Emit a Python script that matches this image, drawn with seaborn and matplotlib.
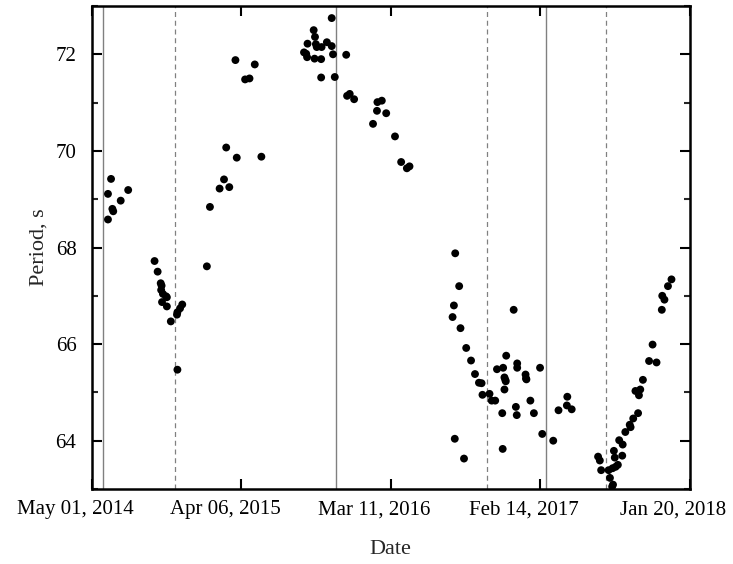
import numpy as np
import pandas as pd
import matplotlib
matplotlib.use("Agg")
import matplotlib.pyplot as plt
import matplotlib.dates as mdates
import matplotlib.transforms as mtransforms
from matplotlib.ticker import MultipleLocator
import seaborn as sns

# ---- data ----
start_date = "2014-05-01"
# days since 2014-05-01
days = [44, 37, 83, 66, 47, 49, 37,
        143, 150, 157, 159, 158, 162, 169, 171, 160, 171, 206, 201, 195, 194, 180, 195,
        262, 269, 291, 301, 313, 306, 330, 386, 327, 371, 349, 359,
        546, 505, 508, 491, 510, 512, 523, 535, 546, 483, 488, 490, 507, 522, 549, 579, 522, 553,
        581, 587, 597, 650, 660, 649, 670, 640, 690, 704, 717, 723,
        827, 836, 824, 821, 839, 852, 863, 872, 881, 887, 889, 905, 910, 918,
        960, 943, 922, 936, 939, 941, 942, 939, 968, 968, 987, 988, 989, 1020, 998,
        965, 934, 967, 1006, 1082, 1081, 1092, 1062, 1025, 1050, 826, 935, 847,
        1319, 1311, 1298, 1303, 1297, 1276, 1268, 1285, 1254, 1237, 1248, 1245, 1243,
        1232, 1224, 1226, 1214, 1200, 1208, 1188, 1190, 1207, 1152, 1156, 1197, 1192,
        1185, 1159, 1176, 1179, 1186, 1184]
period = [69.42, 69.11, 69.19, 68.97, 68.80, 68.75, 68.58,
          67.72, 67.50, 67.26, 67.21, 67.12, 67.04, 66.99, 66.97, 66.87, 66.78, 66.82, 66.74, 66.66, 66.61, 66.47, 65.47,
          67.61, 68.84, 69.22, 69.41, 69.25, 70.07, 69.86, 69.88, 71.88, 71.79, 71.48, 71.50,
          72.75, 72.50, 72.36, 72.22, 72.21, 72.15, 72.15, 72.25, 72.17, 72.04, 72.01, 71.94, 71.91, 71.90, 72.00, 71.99, 71.52, 71.53,
          71.14, 71.18, 71.07, 71.01, 71.04, 70.83, 70.78, 70.56, 70.30, 69.77, 69.64, 69.68,
          67.88, 67.20, 66.80, 66.56, 66.33, 65.92, 65.66, 65.38, 65.20, 65.19, 64.95, 64.97, 64.83, 64.83,
          66.71, 65.76, 65.48, 65.51, 65.31, 65.26, 65.23, 65.06, 65.60, 65.51, 65.37, 65.29, 65.27, 65.51, 64.83,
          64.70, 64.57, 64.53, 64.57, 64.91, 64.73, 64.65, 64.63, 64.14, 64.00, 64.04, 63.83, 63.63,
          67.34, 67.20, 67.00, 66.92, 66.71, 65.99, 65.65, 65.62, 65.26, 65.03, 65.06, 64.94, 64.57,
          64.46, 64.33, 64.28, 64.18, 64.01, 63.92, 63.79, 63.65, 63.69, 63.67, 63.59, 63.50, 63.46,
          63.43, 63.39, 63.39, 63.23, 63.09, 63.05]

solid_line_days = [26, 556, 1033]
dashed_line_days = [190, 899, 1170]
tick_days = [0, 340, 680, 1020, 1360]
y_limits = (63, 73)
x_label = "Date"
y_label = "Period, s"

# ---- build ----
t0 = pd.Timestamp(start_date)
df = pd.DataFrame({"date": t0 + pd.to_timedelta(days, unit="D"), "period": period})
solid_dates = [t0 + pd.Timedelta(days=d) for d in solid_line_days]
dashed_dates = [t0 + pd.Timedelta(days=d) for d in dashed_line_days]
tick_dates = [t0 + pd.Timedelta(days=d) for d in tick_days]

sns.set_style("ticks")
plt.rcParams["font.family"] = ["Liberation Serif", "DejaVu Serif"]

fig = plt.figure(figsize=(7.33, 5.64), dpi=100)
ax = fig.add_axes([91.7 / 733, 1 - 489 / 564, (689.5 - 91.7) / 733, (489 - 6) / 564])

for d in solid_dates:
    ax.axvline(d, color="#808080", lw=1.0, zorder=1)
for d in dashed_dates:
    ax.axvline(d, color="#808080", lw=0.9, ls=(0, (4, 3)), zorder=1)

sns.scatterplot(data=df, x="date", y="period", ax=ax, color="black",
                s=32, edgecolor="none", linewidth=0, zorder=3)

ax.set_xlim(tick_dates[0], tick_dates[-1])
ax.set_ylim(*y_limits)
ax.set_xticks(tick_dates)
ax.xaxis.set_major_formatter(mdates.DateFormatter("%b %d, %Y"))
ax.yaxis.set_major_locator(MultipleLocator(2))
ax.yaxis.set_minor_locator(MultipleLocator(1))

ax.tick_params(axis="both", which="major", direction="in", length=7, width=1.5,
               top=True, right=True, labelsize=15, colors="black")
ax.tick_params(axis="y", which="minor", direction="in", length=4, width=1.5,
               left=True, right=True)
ax.tick_params(axis="x", pad=8)
ax.tick_params(axis="y", pad=11)

offset = mtransforms.ScaledTranslation(-16 / 100, 0, fig.dpi_scale_trans)
for lbl in ax.get_xticklabels():
    lbl.set_transform(lbl.get_transform() + offset)

for sp in ax.spines.values():
    sp.set_linewidth(1.8)
    sp.set_color("black")

ax.set_xlabel(x_label, fontsize=16, labelpad=15)
ax.set_ylabel(y_label, fontsize=16, labelpad=5)

fig.savefig("out.png", dpi=100)
